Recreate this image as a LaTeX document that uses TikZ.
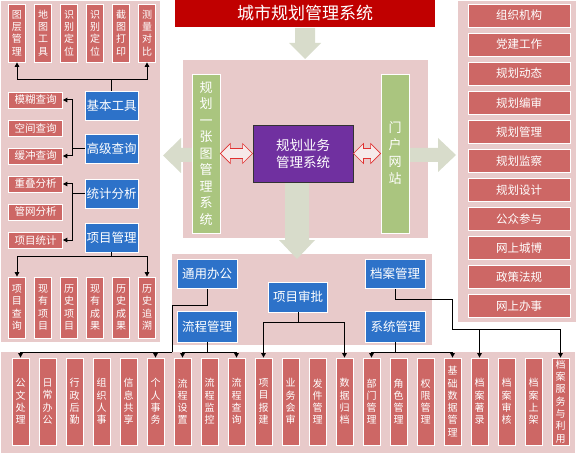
\documentclass[tikz,border=0pt]{standalone}
\usepackage{fontspec}
\newfontfamily\cjk{Noto Sans CJK SC}
\usepackage{tikz}
\usetikzlibrary{arrows.meta, positioning, calc}
\usepackage{xcolor}
\definecolor{panelpink}{HTML}{E8CACA}
\definecolor{tilered}{HTML}{CD6765}
\definecolor{boxblue}{HTML}{2D72C9}
\definecolor{boxgreen}{HTML}{AAC57F}
\definecolor{boxpurple}{HTML}{7030A0}
\definecolor{titlered}{HTML}{C00000}
\definecolor{fatgray}{HTML}{D8DCCB}
\definecolor{linkred}{HTML}{E03030}

\begin{document}
\begin{tikzpicture}[x=1pt, y=-1pt,
  every node/.style={inner sep=0pt, text=white},
  panel/.style={fill=panelpink},
  fatarrow/.style={fill=fatgray},
  vtile/.style={draw=white, line width=0.8pt, fill=tilered, align=center,
    minimum width=17pt, font=\cjk\fontsize{10}{12.3}\selectfont},
  htile/.style={draw=white, line width=0.8pt, fill=tilered,
    minimum width=54pt, minimum height=16pt, font=\cjk\fontsize{10.5}{12}\selectfont},
  rtile/.style={draw=white, line width=0.8pt, fill=tilered,
    minimum width=102pt, minimum height=23pt, font=\cjk\fontsize{11.5}{13}\selectfont},
  bluebox/.style={draw=white, line width=0.8pt, fill=boxblue,
    minimum width=59pt, minimum height=29pt, font=\cjk\fontsize{12.5}{14}\selectfont},
  greenbox/.style={draw=white, line width=0.8pt, fill=boxgreen, align=center,
    minimum width=28pt, minimum height=159pt},
  wire/.style={line width=1pt},
  link/.style={wire, -{Triangle[length=4.5pt, width=4.5pt]}},
  dblarrow/.style={draw=linkred, fill=panelpink!40!white, line width=0.6pt}
]
  \useasboundingbox (0,0) rectangle (577,454);

  % Panels
  \fill[panel] (1,1) rectangle (160,342);
  \fill[panel] (183,60) rectangle (428,238);
  \fill[panel] (458,1) rectangle (576,322);
  \fill[panel] (172,254) rectangle (432,345);
  \fill[panel] (1,352) rectangle (575,453);

  % Title
  \node[fill=titlered, minimum width=260pt, minimum height=27pt,
    font=\cjk\fontsize{17}{20}\selectfont] (title) at (305,13.5) {城市规划管理系统};

  % Fat arrows
  \fill[fatarrow] (295,28) -- (315,28) -- (315,43) -- (321,43) -- (305,59)
    -- (289,43) -- (295,43) -- cycle;
  \fill[fatarrow] (193,148) -- (181,148) -- (181,138) -- (163,155.5)
    -- (181,173) -- (181,162) -- (193,162) -- cycle;
  \fill[fatarrow] (408,148) -- (438,148) -- (438,138) -- (456,155)
    -- (438,172) -- (438,162) -- (408,162) -- cycle;
  \fill[fatarrow] (285,180) -- (309,180) -- (309,240) -- (315,240) -- (297,259)
    -- (279,240) -- (285,240) -- cycle;

  % Left panel
  \foreach \lbl [count=\i] in {{图\\层\\管\\理}, {地\\图\\工\\具}, {识\\别\\定\\位},
      {识\\别\\定\\位}, {截\\图\\打\\印}, {测\\量\\对\\比}}
    \node[vtile, minimum height=58pt] (tool\i) at ({26*\i-9}, 33) {\lbl};

  \foreach \nm/\lbl [count=\i] in {mhcx/模糊查询, kjcx/空间查询, hccx/缓冲查询,
      cdfx/重叠分析, gwfx/管网分析, xmtj/项目统计}
    \node[htile] (\nm) at (35.5, {72+28*\i}) {\lbl};

  \node[bluebox, minimum width=53pt] (jbgj) at (111.5,105.5) {基本工具};
  \node[bluebox, minimum width=53pt] (gjcx) at (111.5,149) {高级查询};
  \node[bluebox, minimum width=53pt] (tjfx) at (111.5,193.5) {统计分析};
  \node[bluebox, minimum width=53pt] (xmgl) at (111.5,237.5) {项目管理};

  \foreach \lbl [count=\i] in {{项\\目\\查\\询}, {现\\有\\项\\目}, {历\\史\\项\\目},
      {现\\有\\成\\果}, {历\\史\\成\\果}, {历\\史\\追\\溯}}
    \node[vtile, minimum height=61pt] (rec\i) at ({26*\i-9}, 307.5) {\lbl};

  % Right panel
  \foreach \lbl [count=\i] in {组织机构, 党建工作, 规划动态, 规划编审, 规划管理,
      规划监察, 规划设计, 公众参与, 网上城博, 政策法规, 网上办事}
    \node[rtile] (web\i) at (519, {29.05*\i-13.55}) {\lbl};

  % Centre panel
  \node[greenbox, font=\cjk\fontsize{13}{16.5}\selectfont] (ghyzt) at (206,153.5)
    {规\\划\\一\\张\\图\\管\\理\\系\\统};
  \node[greenbox, font=\cjk\fontsize{13}{17}\selectfont] (mhwz) at (395,153.5)
    {门\\户\\网\\站};
  \node[draw=black!80, line width=0.9pt, fill=boxpurple, minimum width=100pt,
    minimum height=57pt, align=center, font=\cjk\fontsize{13.5}{17}\selectfont]
    (ywgl) at (303,153.5) {规划业务\\管理系统};

  \draw[dblarrow] (ghyzt.east) -- ++(10,-10) -- ++(0,5) -- ($(ywgl.west)+(-10,-5)$)
    -- ++(0,-5) -- (ywgl.west) -- ++(-10,10) -- ++(0,-5)
    -- ($(ghyzt.east)+(10,5)$) -- ++(0,5) -- cycle;
  \draw[dblarrow] (ywgl.east) -- ++(10,-10) -- ++(0,5) -- ($(mhwz.west)+(-10,-5)$)
    -- ++(0,-5) -- (mhwz.west) -- ++(-10,10) -- ++(0,-5)
    -- ($(ywgl.east)+(10,5)$) -- ++(0,5) -- cycle;

  % Bottom centre panel
  \node[bluebox, minimum width=60pt] (tybg) at (207,274) {通用办公};
  \node[bluebox, minimum width=60pt] (dagl) at (395,274) {档案管理};
  \node[bluebox, minimum height=30pt] (xmsp) at (298,297) {项目审批};
  \node[bluebox, minimum width=60pt, minimum height=31pt] (lcgl) at (207,326.5) {流程管理};
  \node[bluebox, minimum width=60pt, minimum height=31pt] (xtgl) at (395.5,326.5) {系统管理};

  % Bottom strip
  \foreach \lbl [count=\i] in {{公\\文\\处\\理}, {日\\常\\办\\公}, {行\\政\\后\\勤},
      {组\\织\\人\\事}, {信\\息\\共\\享}, {个\\人\\事\\务}, {流\\程\\设\\置},
      {流\\程\\监\\控}, {流\\程\\查\\询}, {项\\目\\报\\建}, {业\\务\\会\\审},
      {发\\件\\管\\理}, {数\\据\\归\\档}, {部\\门\\管\\理}, {角\\色\\管\\理},
      {权\\限\\管\\理}, {基\\础\\数\\据\\管\\理}, {档\\案\\著\\录}, {档\\案\\审\\核},
      {档\\案\\上\\架}, {档\\案\\服\\务\\与\\利\\用}}
    \node[vtile, minimum height=87pt] (bt\i) at ({27*\i-6.5}, 401.5) {\lbl};

  % Left panel wires
  \coordinate (jbgjup) at ($(jbgj.north)+(0,-11)$);
  \draw[wire] (jbgj.north) -- (jbgjup);
  \draw[link] (jbgjup) -| (tool1.south);
  \draw[link] (jbgjup) -| (tool6.south);

  \draw[link] (gjcx.west) -- ++(-12,0) |- (mhcx.east);
  \draw[link] (gjcx.west) -- ++(-12,0) |- (hccx.east);
  \draw[link] (tjfx.west) -- ++(-12,0) |- (cdfx.east);
  \draw[link] (tjfx.west) -- ++(-12,0) |- (xmtj.east);

  \coordinate (xmgldn) at ($(xmgl.south)+(0,4)$);
  \draw[wire] (xmgl.south) -- (xmgldn);
  \draw[link] (xmgldn) -| (rec1.north);
  \draw[link] (xmgldn) -| (rec6.north);

  % Bottom wires
  \coordinate (tyturn) at (172,305);
  \coordinate (tyrail) at (172,352);
  \draw[wire] (tybg.south) |- (tyturn) -- (tyrail);
  \draw[link] (tyrail) -| (bt1.north);
  \draw[link] (tyrail) -| (bt6.north);

  \coordinate (lcrail) at ($(lcgl.south)+(0,10)$);
  \draw[wire] (lcgl.south) -- (lcrail);
  \draw[link] (lcrail) -| (bt7.north);
  \draw[link] (lcrail) -| (bt9.north);

  \coordinate (sprail) at ($(xmsp.south)+(0,10)$);
  \draw[wire] (xmsp.south) -- (sprail);
  \draw[link] (sprail) -| (bt10.north);
  \draw[link] (sprail) -| (bt13.north);

  \coordinate (xtrail) at ($(xtgl.south)+(0,10)$);
  \draw[wire] (xtgl.south) -- (xtrail);
  \draw[link] (xtrail) -| (bt14.north);
  \draw[link] (xtrail) -| (bt17.north);

  \coordinate (daturn) at (452,299);
  \coordinate (darail) at (452,329);
  \draw[wire] (dagl.south) |- (daturn) -- (darail);
  \draw[link] (darail) -| (bt18.north);
  \draw[link] (darail) -| (bt21.north);
\end{tikzpicture}
\end{document}
